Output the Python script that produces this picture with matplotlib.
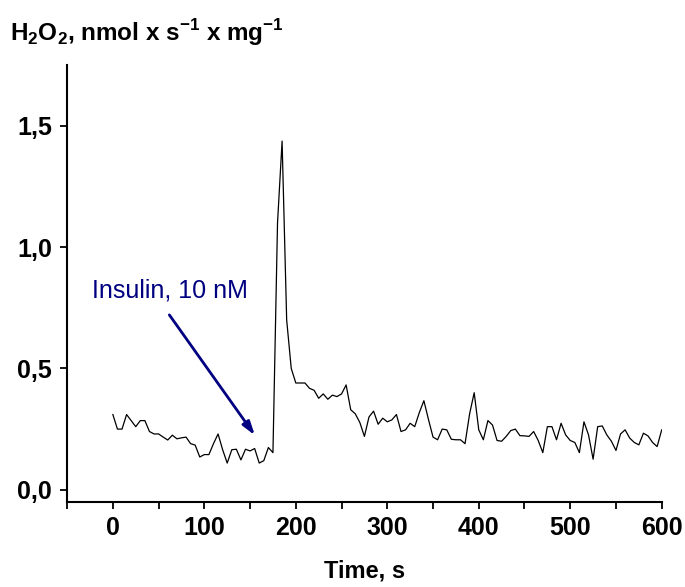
import numpy as np
import matplotlib

matplotlib.use("Agg")
import matplotlib.pyplot as plt
from matplotlib.ticker import FixedLocator

plt.rcParams["font.family"] = ["Liberation Sans", "DejaVu Sans"]
plt.rcParams["mathtext.fontset"] = "custom"
plt.rcParams["mathtext.bf"] = "Liberation Sans:bold"
plt.rcParams["mathtext.rm"] = "Liberation Sans:bold"

# H2O2 production, sampled every 5 s from 0 to 600 s
time_s = np.arange(0, 605, 5)
h2o2 = [
    0.31, 0.25, 0.25, 0.31, 0.285, 0.26, 0.285, 0.285, 0.24, 0.23,
    0.23, 0.217, 0.205, 0.225, 0.21, 0.214, 0.217, 0.19, 0.184, 0.135,
    0.145, 0.145, 0.19, 0.23, 0.165, 0.11, 0.165, 0.167, 0.123, 0.167,
    0.16, 0.17, 0.11, 0.12, 0.174, 0.153, 1.10, 1.437, 0.70, 0.50,
    0.44, 0.44, 0.44, 0.418, 0.41, 0.377, 0.395, 0.373, 0.39, 0.384,
    0.395, 0.432, 0.33, 0.313, 0.277, 0.22, 0.30, 0.324, 0.27, 0.295,
    0.28, 0.288, 0.31, 0.24, 0.247, 0.274, 0.26, 0.318, 0.367, 0.29,
    0.217, 0.206, 0.25, 0.247, 0.208, 0.206, 0.206, 0.19, 0.313, 0.40,
    0.247, 0.206, 0.285, 0.267, 0.203, 0.20, 0.22, 0.244, 0.25, 0.223,
    0.222, 0.22, 0.24, 0.203, 0.153, 0.26, 0.26, 0.206, 0.274, 0.226,
    0.203, 0.195, 0.153, 0.28, 0.226, 0.126, 0.26, 0.263, 0.226, 0.20,
    0.162, 0.23, 0.247, 0.213, 0.195, 0.185, 0.233, 0.222, 0.195, 0.178,
    0.247,
]

x_ticks = [0, 100, 200, 300, 400, 500, 600]
y_ticks = [0.0, 0.5, 1.0, 1.5]
y_tick_labels = ["0,0", "0,5", "1,0", "1,5"]

navy = "#000080"

fig = plt.figure(figsize=(6.85, 5.87), dpi=100)
ax = fig.add_axes([0.098, 0.145, 0.868, 0.744])

ax.plot(time_s, h2o2, color="black", lw=0.9)

ax.set_xlim(-50, 600)
ax.set_ylim(-0.05, 1.75)
ax.set_xticks(x_ticks)
ax.xaxis.set_minor_locator(FixedLocator(np.arange(-50, 651, 100)))
ax.set_yticks(y_ticks)
ax.set_yticklabels(y_tick_labels)

for side in ("top", "right"):
    ax.spines[side].set_visible(False)
for side in ("left", "bottom"):
    ax.spines[side].set_linewidth(1.5)

ax.tick_params(which="both", direction="out", width=1.3, length=5)
ax.tick_params(axis="x", labelsize=18, pad=5)
ax.tick_params(axis="y", labelsize=18, pad=6)
for lab in ax.get_xticklabels() + ax.get_yticklabels():
    lab.set_fontweight("bold")

ax.set_xlabel("Time, s", fontsize=17, fontweight="bold", labelpad=14)

fig.text(0.015, 0.945,
         r"H$_\mathbf{2}$O$_\mathbf{2}$, nmol x s$^\mathbf{-1}$ x mg$^\mathbf{-1}$",
         fontsize=17.5, fontweight="bold", ha="left", va="center")

ax.annotate(
    "",
    xy=(157, 0.215), xytext=(60, 0.73),
    arrowprops=dict(arrowstyle="-|>,head_length=0.8,head_width=0.25",
                    color=navy, lw=2),
)
ax.text(-23, 0.82, "Insulin, 10 nM", color=navy, fontsize=18,
        ha="left", va="center")

fig.savefig("out.png", dpi=100)
